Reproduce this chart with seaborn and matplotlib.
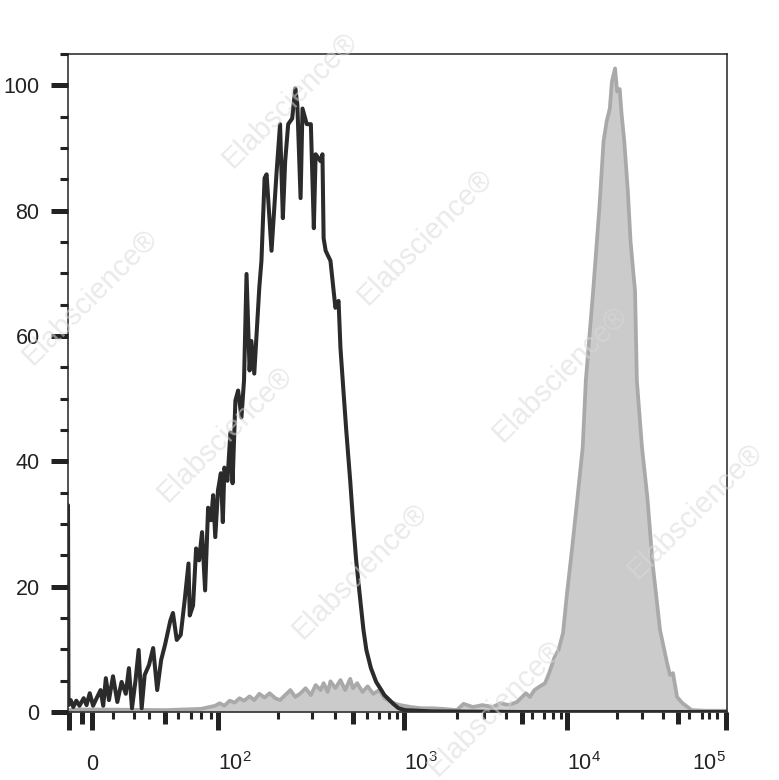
import numpy as np
import matplotlib
matplotlib.use("Agg")
import matplotlib.pyplot as plt
import seaborn as sns

# axis calibration of the biexponential display: fluorescence value -> position along the axis
scale_values = [-1000, -110, -100, -50, 0, 20, 30, 40, 50, 60, 70, 80, 90, 100,
                200, 300, 400, 500, 600, 700, 800, 900, 1e3, 2e3, 3e3, 4e3, 5e3,
                6e3, 7e3, 8e3, 9e3, 1e4, 2e4, 3e4, 4e4, 5e4, 6e4, 7e4, 8e4, 9e4, 1e5, 1e6]
scale_pos = [-60, 0, 1, 14, 24, 45, 66, 81, 97, 110, 123, 133, 143, 150,
             210, 244, 267, 285, 299, 311, 321, 329, 336, 389, 416, 438, 454,
             464, 476, 485, 493, 499, 549, 574, 595, 610, 621, 634, 641, 649, 658, 820]

# isotype control (open black line)
control_x = [-110, -105, -92, -81, -69, -58, -40, -25, -10, 1, 4, 8, 10.5, 13, 16, 20, 22, 24, 26, 27.5,
             29, 31, 33, 35, 37, 40, 42.5, 45, 47.5, 50, 54, 56, 59, 62, 65, 68, 69, 72, 75, 78,
             81, 84, 87, 90, 93, 96, 100, 103.5, 106, 108, 112, 116, 119, 123, 127, 132, 136, 140, 145, 148,
             153, 159, 162, 166, 172, 176, 186, 197, 205, 212, 218, 226, 237, 246, 252, 262, 268, 282, 296, 307,
             314, 334, 342, 347, 356, 378, 402, 418, 428, 444, 460, 483, 500, 521, 550, 573, 595, 631, 675, 722,
             752, 806, 852, 921, 1014, 1443, 5000, 101500]
control_y = [33, 1.1, 1.9, 0.8, 1.8, 1.0, 2.2, 1.1, 3.0, 1.0, 2.1, 3.5, 1.0, 5.4, 1.9, 5.7, 1.6, 4.8, 2.9, 7.0,
             0.6, 5.1, 9.9, 0.6, 5.9, 7.5, 10.2, 3.5, 8.3, 10.7, 14.6, 15.8, 11.5, 12.3, 17.8, 23.7, 15.4, 17.0, 26.1, 24.2,
             28.7, 19.4, 32.6, 30.6, 34.6, 27.9, 35.4, 38.1, 30.3, 39.0, 36.9, 44.6, 36.5, 49.7, 51.3, 47.0, 52.9, 69.9, 54.5, 59.2,
             54.0, 63.2, 67.7, 72.0, 85.2, 85.8, 73.6, 86.3, 93.8, 78.8, 87.9, 93.8, 94.7, 99.5, 97.0, 82.0, 96.3, 93.8, 93.8, 77.2,
             89.0, 87.9, 89.0, 75.6, 73.6, 72.0, 64.5, 65.6, 58.1, 51.3, 44.9, 36.9, 30.6, 24.2, 17.8, 13.1, 9.9, 7.0, 4.8, 3.5,
             2.7, 1.9, 1.3, 0.6, 0.3, 0.1, 0.0, 0.0]

# stained sample (filled grey)
stained_x = [-110, -60, 0, 50, 80, 88.5, 96, 102, 108, 115, 122, 129, 136, 145, 153, 162, 172, 182, 194, 205,
             218, 232, 246, 262, 278, 296, 314, 334, 347, 365, 378, 402, 428, 454, 483, 500, 528, 566, 605, 650,
             704, 752, 828, 886, 948, 1090, 1254, 1443, 1663, 1997, 2205, 2540, 2927, 3370, 3717, 4160, 4663, 5010, 5373, 5780,
             6189, 6650, 7109, 7548, 8203, 8682, 9320, 10000, 10750, 11560, 12430, 12980, 14370, 15660, 16600, 17340, 18100, 18640, 19470, 20040,
             20900, 21550, 22500, 23850, 24900, 26000, 26800, 27600, 30000, 32300, 34700, 38400, 42500, 44400, 46400, 49300, 53900, 62000, 75000, 98500,
             101500]
stained_y = [0.3, 0.4, 0.4, 0.3, 0.5, 0.8, 1.0, 1.4, 1.0, 1.8, 1.5, 2.2, 1.8, 2.5, 1.9, 2.9, 2.3, 3.0, 2.2, 1.9,
             2.7, 3.5, 2.4, 3.0, 3.8, 2.7, 4.3, 3.5, 4.6, 3.2, 4.9, 3.8, 5.1, 3.5, 5.3, 3.8, 4.6, 3.2, 4.1, 2.9,
             3.5, 2.2, 1.6, 1.3, 1.1, 0.8, 0.6, 0.6, 0.5, 0.3, 1.3, 0.8, 1.1, 0.8, 1.4, 1.1, 1.6, 2.4, 3.0, 2.4,
             3.5, 4.1, 4.6, 6.2, 8.8, 9.9, 12.6, 18.9, 26.3, 34.2, 42.2, 52.9, 67.2, 80.4, 91.1, 94.3, 96.3, 100.6, 102.7, 99.0,
             99.4, 95.4, 91.1, 83.1, 75.2, 70.4, 67.2, 52.9, 42.2, 34.2, 23.7, 13.1, 7.8, 5.9, 6.2, 2.4, 1.4, 0.3, 0.2, 0.2,
             0.2]

x_major = [-100, 0, 100, 1e3, 1e4, 1e5]
x_major_labels = ["", "0", "$10^{2}$", "$10^{3}$", "$10^{4}$", "$10^{5}$"]
x_label_ha = ["center", "center", "left", "left", "left", "right"]
x_medium = [-50, 50, 500, 5e3, 5e4]
x_minor = [20, 30, 40, 60, 70, 80, 90,
           200, 300, 400, 600, 700, 800, 900,
           2e3, 3e3, 4e3, 6e3, 7e3, 8e3, 9e3,
           2e4, 3e4, 4e4, 6e4, 7e4, 8e4, 9e4]
y_major = [0, 20, 40, 60, 80, 100]
y_minor = [5, 10, 15, 25, 30, 35, 45, 50, 55, 65, 70, 75, 85, 90, 95, 105]

sns.set_theme(style="white")
plt.rcParams["font.family"] = ["Liberation Sans", "DejaVu Sans"]
plt.rcParams["mathtext.fontset"] = "custom"
plt.rcParams["mathtext.rm"] = "Liberation Sans"
plt.rcParams["mathtext.default"] = "regular"

U = np.arcsinh(np.asarray(scale_values, float) / 50.0)
P = np.asarray(scale_pos, float)


def fwd(x):
    return np.interp(np.arcsinh(np.asarray(x, float) / 50.0), U, P)


def inv(p):
    return 50.0 * np.sinh(np.interp(np.asarray(p, float), P, U))


ink = "#222222"
fig = plt.figure(figsize=(7.79, 7.80), dpi=100)
ax = fig.add_axes([68 / 779, 68 / 780, 659 / 779, 658 / 780])
ax.set_xscale("function", functions=(fwd, inv))
xlim = (-110, float(inv(659)))

ax.fill_between(stained_x, 0, stained_y, color="#cbcbcb", linewidth=0, zorder=1)
sns.lineplot(x=stained_x, y=stained_y, ax=ax, color="#a9a9a9", linewidth=2.7,
             estimator=None, sort=False, zorder=2)
sns.lineplot(x=control_x, y=control_y, ax=ax, color="#2b2b2b", linewidth=2.9,
             estimator=None, sort=False, zorder=3)

ax.set_xlim(*xlim)
ax.set_ylim(0, 105)
ax.set_xlabel("")
ax.set_ylabel("")

for s in ax.spines.values():
    s.set_color(ink)
    s.set_linewidth(1.1)
    s.set_visible(True)

ax.set_xticks(x_major)
labs = ax.set_xticklabels(x_major_labels)
for lab, ha in zip(labs, x_label_ha):
    lab.set_ha(ha)
    lab.set_va("baseline")
ax.set_xticks(x_minor, minor=True)
ax.set_yticks(y_major)
ax.set_yticklabels([str(v) for v in y_major])
ax.set_yticks(y_minor, minor=True)

ax.tick_params(axis="x", which="major", direction="out", length=13, width=3.6,
               color=ink, pad=29, labelsize=15.5, labelcolor=ink, bottom=True)
ax.tick_params(axis="x", which="minor", direction="out", length=5, width=2.2,
               color=ink, bottom=True)
ax.tick_params(axis="y", which="major", direction="out", length=12.5, width=3.6,
               color=ink, pad=8, labelsize=15.5, labelcolor=ink, left=True)
ax.tick_params(axis="y", which="minor", direction="out", length=5.8, width=2.2,
               color=ink, left=True)

# medium-length ticks at the 5x positions
ax2 = ax.twiny()
ax2.set_xscale("function", functions=(fwd, inv))
ax2.set_xlim(*xlim)
ax2.xaxis.set_ticks_position("bottom")
ax2.set_xticks(x_medium)
ax2.set_xticklabels([])
ax2.xaxis.set_minor_locator(matplotlib.ticker.NullLocator())
ax2.tick_params(axis="x", which="major", direction="out", length=8.6, width=3.6,
                color=ink, bottom=True, top=False)
for s in ax2.spines.values():
    s.set_visible(False)
ax2.patch.set_visible(False)
ax2.grid(False)

# faint watermark (only the copies that sit fully inside the figure)
for i in range(-1, 6):
    for j in range(-3, 3):
        px = 290 + 135 * i + 335 * j
        py = 100 + 137 * i - 60 * j
        if 75 <= px <= 705 and 75 <= py <= 712:
            fig.text(px / 779, 1 - py / 780, "Elabscience\u00ae", rotation=45,
                     ha="center", va="center", fontsize=21, color="#d9d9d9",
                     alpha=0.55, zorder=10)

fig.savefig("out.png", dpi=100)
